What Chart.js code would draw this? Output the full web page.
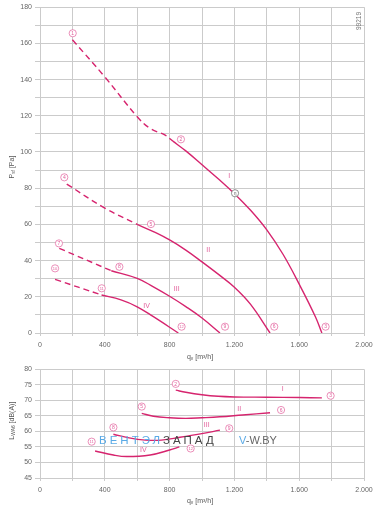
<!DOCTYPE html>
<html><head><meta charset="utf-8">
<script src="https://cdn.jsdelivr.net/npm/chart.js@4.4.0/dist/chart.umd.min.js"></script>
<style>
html,body{margin:0;padding:0;background:#fff;width:383px;height:506px;overflow:hidden;position:relative;}
#c1{position:absolute;left:0;top:0;}
#c2{position:absolute;left:0;top:362px;}
.wm{position:absolute;font-family:"Liberation Sans",Arial,sans-serif;white-space:nowrap;pointer-events:none;}
</style></head><body>
<canvas id="c1" width="383" height="362"></canvas>
<canvas id="c2" width="383" height="144"></canvas>
<div class="wm" style="left:99px;top:434px;font-size:11.5px;letter-spacing:3px;"><span style="color:#5aaae6">ВЕНТЭЛ</span><span style="color:#444">ЗАПАД</span></div>
<div class="wm" style="left:239px;top:434px;font-size:11px;color:#666;"><span style="color:#5aaae6">V</span>-W.BY</div>
<script>
// ---- data: pressure curves (q in m3/h, P in Pa) ----
const p1Dashed = [[200,162],[400,141.5],[600,119.5],[680,113],[770,109.4],[820,106]];
const p1Solid  = [[820,106],[900,100.6],[1000,93],[1100,85.2],[1200,77],[1300,67.8],[1400,57],[1500,43.5],[1600,27],[1700,9],[1740,0]];
const p2Dashed = [[165,82.3],[400,69],[600,60]];
const p2Solid  = [[600,60],[700,56],[800,51.4],[900,45.8],[1000,39.3],[1100,32.5],[1200,25.3],[1300,15.8],[1420,0]];
const p3Dashed = [[119,46.8],[440,34.4]];
const p3Solid  = [[440,34.4],[600,30.2],[700,25.5],[800,20.3],[900,14.6],[1000,8.3],[1111,0]];
const p4Dashed = [[93,29.6],[380,21]];
const p4Solid  = [[380,21],[500,18.3],[600,14.5],[700,9.0],[854,0]];
// ---- data: sound power curves (q in m3/h, L in dB(A)) ----
const l1 = [[838,73.3],[900,72.6],[1000,71.8],[1100,71.3],[1200,71.1],[1400,71.0],[1600,70.9],[1740,70.8]];
const l2 = [[628,65.8],[700,64.9],[800,64.4],[900,64.2],[1000,64.4],[1110,64.7],[1250,65.3],[1420,66.0]];
const l3 = [[453,59.1],[550,57.9],[650,57.2],[750,57.2],[864,58.1],[990,59.2],[1111,60.4]];
const l4 = [[340,53.7],[453,52.4],[535,51.9],[680,52.4],[800,54.0],[860,55.0]];
// ---- point markers and curve labels ----
const pressureMarkers = [['1',202,165.6],['2',870,107],['3',1763,3.5],['4',150,86],['5',685,60.2],['6',1446,3.5],
  ['7',117,49.5],['8',490,36.6],['9',1142,3.5],['10',93,35.7],['11',381,24.7],['12',874,3.5]];
const pressureEta = [[1204,77.2]];
const pressureLabels = [['I',1168,86.7],['II',1039,45.9],['III',844,24.1],['IV',658,14.9]];
const soundMarkers = [['2',838,75.3],['3',1794,71.5],['5',628,68],['6',1488,66.9],['8',453,61.3],['9',1168,61.0],['11',319,56.7],['12',930,54.5]];
const soundLabels = [['I',1498,73.5],['II',1230,67.2],['III',1029,62.1],['IV',638,54.0]];
// ---- ticks ----
const xTicksLabelled = [0,400,800,1200,1600,2000];
const pressureTicksLabelled = [0,20,40,60,80,100,120,140,160,180];
const soundTicks = [45,50,55,60,65,70,75,80];

const LINE='#d6246e', MARK='#e2609c', GRID='#cbcbcb', TICK='#666', FONT='"Liberation Sans", Arial, sans-serif';
const fmt = v => v>=1000 ? Math.floor(v/1000)+'.'+String(v%1000).padStart(3,'0') : String(v);
const pts = a => a.map(([x,y])=>({x,y}));
function ds(arr, dashed){
  return {data:pts(arr), borderColor:LINE, borderWidth:1.4, pointRadius:0, fill:false,
    tension:0.4, borderDash: dashed?[6,4]:[]};
}
function rich(ctx, parts, x, y, rot, size){
  ctx.save(); ctx.translate(x,y); ctx.rotate(rot);
  let w=0;
  for(const p of parts){ ctx.font=(p.sub?size*0.7:size)+'px '+FONT; w+=ctx.measureText(p.t).width; }
  let cx=-w/2;
  ctx.textBaseline='middle'; ctx.textAlign='left'; ctx.fillStyle='#555';
  for(const p of parts){ ctx.font=(p.sub?size*0.7:size)+'px '+FONT; ctx.fillText(p.t,cx,p.sub?2:0); cx+=ctx.measureText(p.t).width; }
  ctx.restore();
}
const annot = {
  id:'annot',
  afterDatasetsDraw(chart, args, o){
    const {ctx, chartArea:ca, scales:{x,y}} = chart;
    ctx.save();
    for(const [t,q,v] of o.markers){
      const px=x.getPixelForValue(q), py=y.getPixelForValue(v);
      ctx.beginPath(); ctx.arc(px,py,3.6,0,Math.PI*2); ctx.fillStyle='#fff'; ctx.fill();
      ctx.lineWidth=0.7; ctx.strokeStyle=MARK; ctx.stroke();
      ctx.fillStyle=MARK; ctx.font=(t.length>1?4:5)+'px '+FONT; ctx.textAlign='center'; ctx.textBaseline='middle';
      ctx.fillText(t,px,py+0.3);
    }
    for(const [q,v] of (o.eta||[])){
      const px=x.getPixelForValue(q), py=y.getPixelForValue(v);
      ctx.beginPath(); ctx.arc(px,py,3.6,0,Math.PI*2); ctx.fillStyle='#fff'; ctx.fill();
      ctx.lineWidth=0.8; ctx.strokeStyle='#777'; ctx.stroke();
      ctx.fillStyle='#666'; ctx.font='5px '+FONT; ctx.textAlign='center'; ctx.textBaseline='middle';
      ctx.fillText('η',px,py+0.3);
    }
    for(const [t,q,v] of o.labels){
      ctx.fillStyle=MARK; ctx.font='7px '+FONT; ctx.textAlign='center'; ctx.textBaseline='middle';
      ctx.fillText(t,x.getPixelForValue(q),y.getPixelForValue(v));
    }
    rich(ctx,[{t:'q'},{t:'v',sub:true},{t:' [m³/h]'}],200,o.xTitleY,0,7);
    rich(ctx,o.yTitle,12,(ca.top+ca.bottom)/2-3,-Math.PI/2,7);
    if(o.code){
      ctx.save(); ctx.translate(359,21); ctx.rotate(-Math.PI/2);
      ctx.fillStyle='#777'; ctx.font='6.5px '+FONT; ctx.textAlign='center'; ctx.textBaseline='middle';
      ctx.fillText(o.code,0,0); ctx.restore();
    }
    ctx.restore();
  }
};
function scales(ymin,ymax,ystep,ylab,xh){
  return {
    x:{type:'linear',min:0,max:2000,
      ticks:{stepSize:200,autoSkip:false,maxRotation:0,padding:5,color:TICK,font:{family:FONT,size:7},
        callback:v=> xTicksLabelled.includes(v)?fmt(v):''},
      grid:{color:GRID,lineWidth:1,tickLength:3}, border:{color:GRID},
      afterFit(s){s.height=xh;}},
    y:{type:'linear',min:ymin,max:ymax,
      ticks:{stepSize:ystep,autoSkip:false,padding:3,color:TICK,font:{family:FONT,size:7},
        callback:v=> ylab.includes(v)?String(v):''},
      grid:{color:GRID,lineWidth:1,tickLength:5}, border:{color:GRID},
      afterFit(s){s.width=40;}}
  };
}
const common = {responsive:false, animation:false, events:[],
  plugins:{legend:{display:false}, tooltip:{enabled:false}}};

new Chart(document.getElementById('c1'),{
  type:'line',
  data:{datasets:[ds(p1Dashed,true),ds(p1Solid,false),ds(p2Dashed,true),ds(p2Solid,false),
    ds(p3Dashed,true),ds(p3Solid,false),ds(p4Dashed,true),ds(p4Solid,false)]},
  options:Object.assign({},common,{
    layout:{padding:{top:7,left:0,right:19,bottom:0}},
    scales:scales(0,180,10,pressureTicksLabelled,29),
    plugins:Object.assign({},common.plugins,{annot:{markers:pressureMarkers,eta:pressureEta,labels:pressureLabels,
      xTitleY:357,yTitle:[{t:'P'},{t:'sf',sub:true},{t:' [Pa]'}],code:'99219'}})
  }),
  plugins:[annot]
});
new Chart(document.getElementById('c2'),{
  type:'line',
  data:{datasets:[ds(l1,false),ds(l2,false),ds(l3,false),ds(l4,false)]},
  options:Object.assign({},common,{
    layout:{padding:{top:7.3,left:0,right:19,bottom:0}},
    scales:scales(45,80,5,soundTicks,28),
    plugins:Object.assign({},common.plugins,{annot:{markers:soundMarkers,labels:soundLabels,
      xTitleY:139,yTitle:[{t:'L'},{t:'WA6',sub:true},{t:' [dB(A)]'}]}})
  }),
  plugins:[annot]
});
</script>
</body></html>
